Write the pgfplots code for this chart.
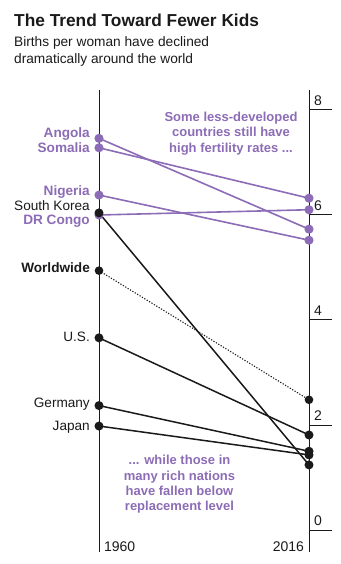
\documentclass[border=0pt]{standalone}
\usepackage{fontspec}
\setmainfont{Liberation Sans}
\usepackage{pgfplots}
\pgfplotsset{compat=1.18}
\definecolor{purp}{RGB}{140,108,182}
\definecolor{ink}{RGB}{26,26,26}
\begin{document}
\begin{tikzpicture}[x=1bp,y=1bp]
\useasboundingbox (0,0) rectangle (340,564);
\node[anchor=base west, inner sep=0pt, font=\fontsize{17.3bp}{20bp}\selectfont\bfseries, text=ink] at (14,537.3) {The Trend Toward Fewer Kids};
\node[anchor=base west, inner sep=0pt, font=\fontsize{13.7bp}{16bp}\selectfont, text=ink] at (14,517.3) {Births per woman have declined};
\node[anchor=base west, inner sep=0pt, font=\fontsize{13.7bp}{16bp}\selectfont, text=ink] at (14,500.7) {dramatically around the world};
\begin{axis}[at={(99bp,12bp)}, anchor=south west, scale only axis,
  width=210bp, height=462bp,
  xmin=1960, xmax=2016, ymin=-0.419, ymax=8.381,
  clip=false,
  separate axis lines,
  every outer x axis line/.append style={draw=none},
  axis line style={ink, line width=1bp},
  ytick={0,2,4,6,8},
  ytick pos=right, yticklabel pos=right,
  tick align=outside, major tick length=23bp,
  ytick style={ink, line width=1bp},
  yticklabel style={anchor=south west, inner sep=0pt, xshift=-18bp, yshift=4bp, font=\fontsize{14bp}{16bp}\selectfont, text=ink},
  /pgf/number format/assume math mode=true,
  xtick={1960,2016},
  xticklabels={\makebox[0pt][l]{\hspace{5bp}1960}, \makebox[0pt][r]{2016\hspace{5bp}}},
  xtick pos=bottom,
  xtick style={draw=none},
  xticklabel style={anchor=base, inner sep=0pt, yshift=23.3bp, font=\fontsize{14bp}{16bp}\selectfont, text=ink},
  every axis plot/.append style={mark=*, mark size=3.7bp, mark options={solid}},
]
% purple: high-fertility countries
\addplot[purp, line width=1.6bp] coordinates {(1960,7.46) (2016,5.73)}; % Angola
\addplot[purp, line width=1.6bp] coordinates {(1960,7.28) (2016,6.32)}; % Somalia
\addplot[purp, line width=1.6bp] coordinates {(1960,6.38) (2016,5.52)}; % Nigeria
\addplot[purp, line width=1.6bp] coordinates {(1960,6.00) (2016,6.10)}; % DR Congo
% black
\addplot[ink, line width=1.1bp, dash pattern=on 1.2bp off 1.6bp] coordinates {(1960,4.94) (2016,2.48)}; % Worldwide
\addplot[ink, line width=1.5bp] coordinates {(1960,3.66) (2016,1.81)}; % US
\addplot[ink, line width=1.5bp] coordinates {(1960,2.37) (2016,1.50)}; % Germany
\addplot[ink, line width=1.5bp] coordinates {(1960,1.98) (2016,1.43)}; % Japan
\addplot[ink, line width=1.5bp] coordinates {(1960,6.04) (2016,1.24)}; % South Korea

\tikzset{lab/.style={anchor=base east, inner sep=0pt, xshift=-9bp, font=\fontsize{13.6bp}{16bp}\selectfont}}
\node[lab, text=purp, font=\fontsize{13.6bp}{16bp}\selectfont\bfseries] at (axis cs:1960,7.480) {Angola};
\node[lab, text=purp, font=\fontsize{13.6bp}{16bp}\selectfont\bfseries] at (axis cs:1960,7.187) {Somalia};
\node[lab, text=purp, font=\fontsize{13.6bp}{16bp}\selectfont\bfseries] at (axis cs:1960,6.362) {Nigeria};
\node[lab, text=ink] at (axis cs:1960,6.082) {South Korea};
\node[lab, text=purp, font=\fontsize{13.6bp}{16bp}\selectfont\bfseries] at (axis cs:1960,5.810) {DR Congo};
\node[lab, text=ink, font=\fontsize{13.6bp}{16bp}\selectfont\bfseries] at (axis cs:1960,4.909) {Worldwide};
\node[lab, text=ink] at (axis cs:1960,3.587) {U.S.};
\node[lab, text=ink] at (axis cs:1960,2.324) {Germany};
\node[lab, text=ink] at (axis cs:1960,1.891) {Japan};
\end{axis}
\tikzset{ann/.style={anchor=base, inner sep=0pt, text=purp, font=\fontsize{13bp}{15bp}\selectfont\bfseries}}
\node[ann] at (231,442.3) {Some less-developed};
\node[ann] at (231,427) {countries still have};
\node[ann] at (231,411.3) {high fertility rates ...};
\node[ann] at (179.5,99) {... while those in};
\node[ann] at (179.5,83.3) {many rich nations};
\node[ann] at (179.5,68) {have fallen below};
\node[ann] at (179.5,53) {replacement level};
\end{tikzpicture}
\end{document}
